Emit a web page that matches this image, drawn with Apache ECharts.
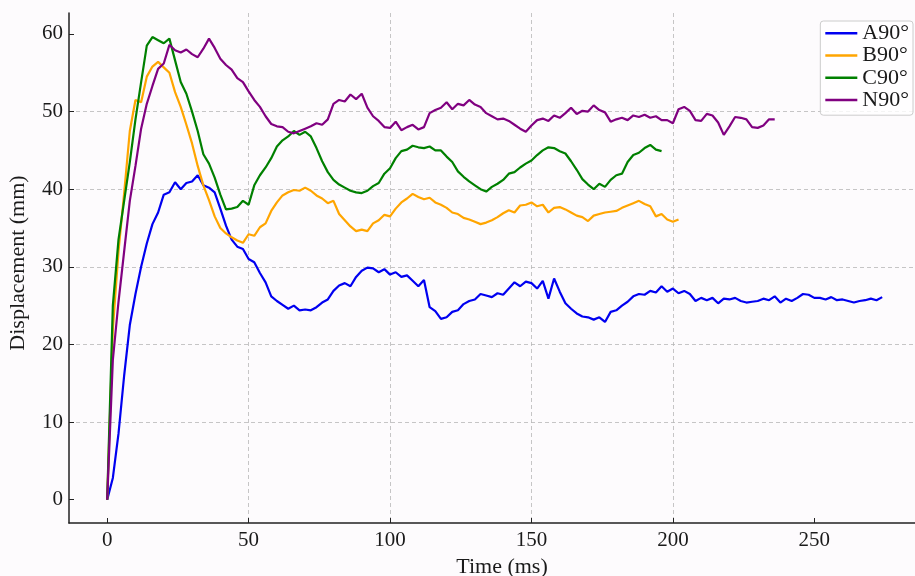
<!DOCTYPE html>
<html>
<head>
<meta charset="utf-8">
<script src="https://cdn.jsdelivr.net/npm/echarts@6/dist/echarts.min.js"></script>
<style>
  html, body { margin: 0; padding: 0; background: #fdfbfd; }
  #chart { width: 915px; height: 576px; }
</style>
</head>
<body>
<div id="chart"></div>
<script>
// sample clock (ms), one sample every 2 ms
const timeMs = [
  0, 2, 4, 6, 8, 10, 12, 14, 16, 18, 20, 22, 24, 26, 28, 30, 32, 34, 36, 38,
  40, 42, 44, 46, 48, 50, 52, 54, 56, 58, 60, 62, 64, 66, 68, 70, 72, 74, 76, 78,
  80, 82, 84, 86, 88, 90, 92, 94, 96, 98, 100, 102, 104, 106, 108, 110, 112, 114, 116, 118,
  120, 122, 124, 126, 128, 130, 132, 134, 136, 138, 140, 142, 144, 146, 148, 150, 152, 154, 156, 158,
  160, 162, 164, 166, 168, 170, 172, 174, 176, 178, 180, 182, 184, 186, 188, 190, 192, 194, 196, 198,
  200, 202, 204, 206, 208, 210, 212, 214, 216, 218, 220, 222, 224, 226, 228, 230, 232, 234, 236, 238,
  240, 242, 244, 246, 248, 250, 252, 254, 256, 258, 260, 262, 264, 266, 268, 270, 272, 274
];

// displacement (mm)
const a90 = [
  0, 2.8, 8.5, 16, 22.5, 26.5, 30, 33, 35.5, 37,
  39.3, 39.6, 40.9, 40, 40.8, 41, 41.8, 40.5, 40.2, 39.6,
  37.5, 35.3, 33.5, 32.6, 32.3, 31, 30.6, 29.2, 28, 26.2,
  25.6, 25.1, 24.6, 25, 24.4, 24.5, 24.4, 24.8, 25.4, 25.8,
  26.9, 27.6, 27.9, 27.5, 28.7, 29.5, 29.9, 29.8, 29.3, 29.7,
  29.0, 29.3, 28.7, 28.9, 28.2, 27.5, 28.3, 24.8, 24.3, 23.3,
  23.5, 24.2, 24.4, 25.2, 25.6, 25.8, 26.5, 26.3, 26.1, 26.6,
  26.4, 27.2, 28.0, 27.5, 28.1, 27.9, 27.2, 28.2, 25.9, 28.5,
  26.8, 25.3, 24.6, 24.0, 23.6, 23.5, 23.2, 23.5, 22.9, 24.2,
  24.4, 25.0, 25.5, 26.2, 26.5, 26.4, 26.9, 26.7, 27.5, 26.8,
  27.2, 26.6, 26.9, 26.5, 25.6, 26.0, 25.7, 26.0, 25.3, 25.9,
  25.8, 26.0, 25.6, 25.4, 25.5, 25.6, 25.9, 25.7, 26.2, 25.4,
  25.9, 25.6, 26.0, 26.5, 26.4, 26.0, 26.0, 25.8, 26.1, 25.7,
  25.8, 25.6, 25.4, 25.6, 25.7, 25.9, 25.7, 26.1
];
const b90 = [
  0, 22, 32, 39.5, 47.5, 51.5, 51.2, 54.5, 55.8, 56.4,
  55.7, 55.0, 52.5, 50.6, 48.3, 45.9, 43, 40.5, 38.6, 36.5,
  35, 34.3, 33.8, 33.4, 33.1, 34.2, 34.0, 35.1, 35.6, 37.2,
  38.3, 39.2, 39.6, 39.9, 39.8, 40.2, 39.8, 39.2, 38.8, 38.2,
  38.5, 36.8, 36.0, 35.2, 34.6, 34.8, 34.6, 35.6, 36.0, 36.7,
  36.5, 37.5, 38.3, 38.8, 39.4, 39.0, 38.7, 38.9, 38.3, 38.0,
  37.6, 37.0, 36.8, 36.3, 36.1, 35.8, 35.5, 35.7, 36.0, 36.4,
  36.9, 37.3, 37.0, 37.9, 38.0, 38.3, 37.8, 38.0, 37.0, 37.6,
  37.7, 37.4, 37.0, 36.6, 36.4, 35.9, 36.6, 36.8, 37.0, 37.1,
  37.2, 37.6, 37.9, 38.2, 38.5, 38.1, 37.8, 36.5, 36.8, 36.1,
  35.8, 36.1
];
const c90 = [
  0, 25, 33.5, 38.5, 43.5, 49, 53.8, 58.5, 59.6, 59.2,
  58.8, 59.4, 56.6, 53.8, 52.3, 50, 47.5, 44.5, 43.3, 41.5,
  39.3, 37.4, 37.5, 37.7, 38.5, 38.0, 40.5, 41.8, 42.8, 44.0,
  45.5, 46.3, 46.8, 47.5, 47.0, 47.4, 46.8, 45.3, 43.6, 42.2,
  41.2, 40.6, 40.2, 39.8, 39.6, 39.5, 39.8, 40.4, 40.8, 42.0,
  42.7, 44.0, 44.9, 45.1, 45.6, 45.4, 45.3, 45.5, 45.0, 45.0,
  44.2, 43.5, 42.3, 41.6, 41.0, 40.5, 40.0, 39.7, 40.3, 40.7,
  41.2, 42.0, 42.2, 42.8, 43.3, 43.7, 44.4, 45.0, 45.4, 45.3,
  44.9, 44.6, 43.6, 42.5, 41.3, 40.6, 40.0, 40.7, 40.3, 41.2,
  41.8, 42.0, 43.5, 44.4, 44.7, 45.3, 45.7, 45.1, 44.9
];
const n90 = [
  0, 18, 25.5, 32, 38.5, 43, 47.8, 51, 53.3, 55.5,
  56.2, 58.6, 57.9, 57.6, 58.0, 57.4, 57.0, 58.1, 59.4, 58.2,
  56.8, 56.0, 55.4, 54.3, 53.8, 52.6, 51.5, 50.6, 49.4, 48.4,
  48.1, 48.0, 47.4, 47.2, 47.5, 47.8, 48.1, 48.5, 48.3, 49.0,
  51.0, 51.5, 51.3, 52.2, 51.6, 52.3, 50.5, 49.4, 48.8, 48.0,
  47.9, 48.7, 47.6, 48.0, 48.3, 47.7, 48.0, 49.8, 50.2, 50.5,
  51.2, 50.3, 51.0, 50.8, 51.5, 50.9, 50.6, 49.8, 49.4, 49.0,
  49.1, 48.8, 48.3, 47.8, 47.4, 48.2, 48.9, 49.1, 48.8, 49.5,
  49.2, 49.8, 50.5, 49.7, 50.1, 50.0, 50.8, 50.2, 49.9, 48.7,
  49.0, 49.2, 48.9, 49.5, 49.3, 49.6, 49.2, 49.4, 48.9, 48.9,
  48.5, 50.3, 50.6, 50.1, 48.9, 48.8, 49.7, 49.5, 48.6, 47.0,
  48.1, 49.3, 49.2, 49.0, 48.0, 47.9, 48.2, 49.0, 49.0
];

const seriesNames = ['A90°', 'B90°', 'C90°', 'N90°'];
const seriesValues = [a90, b90, c90, n90];
const colors = ['#0000f0', '#ffa500', '#008000', '#800080'];

const xTicks = [0, 50, 100, 150, 200, 250];
const yTicks = [0, 10, 20, 30, 40, 50, 60];

const font = '"Liberation Serif", "Times New Roman", serif';
const ink = '#1a1a1a';

function pairs(vals) {
  return vals.map((v, i) => [timeMs[i], v]);
}

const gridLine = { type: [4, 3], color: '#b8b8b8', width: 0.8 };

let myChart = echarts.init(document.getElementById('chart'));
let option = {
  backgroundColor: '#fdfbfd',
  animation: false,
  grid: { left: 69, right: 0, top: 13, bottom: 53, containLabel: false, outerBoundsMode: 'none' },
  xAxis: {
    type: 'value',
    min: -13.5,
    max: 285.6,
    name: 'Time (ms)',
    nameLocation: 'middle',
    nameGap: 33,
    nameTextStyle: { fontFamily: font, fontSize: 22, color: ink, padding: [0, 0, 0, 20] },
    axisLine: { show: true, onZero: false, lineStyle: { color: '#222', width: 1.5 } },
    axisTick: { show: true, inside: true, length: 5, customValues: xTicks, lineStyle: { color: '#222' } },
    axisLabel: { customValues: xTicks, fontFamily: font, fontSize: 21, color: ink, margin: 7 },
    splitLine: { show: true, showMinLine: false, showMaxLine: false, lineStyle: gridLine }
  },
  yAxis: {
    type: 'value',
    min: -3,
    max: 62.7,
    name: 'Displacement (mm)',
    nameLocation: 'middle',
    nameGap: 40,
    nameTextStyle: { fontFamily: font, fontSize: 22, color: ink, padding: [0, 0, 0, 10] },
    axisLine: { show: true, onZero: false, lineStyle: { color: '#222', width: 1.5 } },
    axisTick: { show: true, inside: true, length: 5, customValues: yTicks, lineStyle: { color: '#222' } },
    axisLabel: { customValues: yTicks, fontFamily: font, fontSize: 21, color: ink, margin: 6 },
    splitLine: { show: true, showMinLine: false, showMaxLine: false, lineStyle: gridLine }
  },
  legend: {
    orient: 'vertical',
    right: 2,
    top: 21,
    icon: 'rect',
    itemWidth: 32,
    itemHeight: 2.5,
    itemGap: 0,
    padding: [1, 4, 4, 5],
    backgroundColor: 'rgba(255,255,255,0.8)',
    borderColor: '#cccccc',
    borderWidth: 1,
    borderRadius: 3,
    textStyle: { fontFamily: font, fontSize: 22, color: ink, lineHeight: 22.3 },
    data: seriesNames
  },
  series: seriesNames.map((name, i) => ({
    name: name,
    type: 'line',
    showSymbol: false,
    color: colors[i],
    lineStyle: { width: 2.2, color: colors[i] },
    data: pairs(seriesValues[i])
  }))
};
myChart.setOption(option);
</script>
</body>
</html>
